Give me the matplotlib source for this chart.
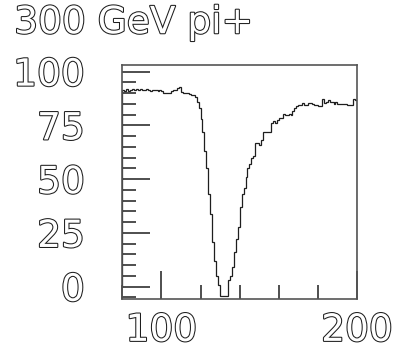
import numpy as np
import matplotlib
matplotlib.use("Agg")
import matplotlib.pyplot as plt
import matplotlib.patheffects as pe
from matplotlib.ticker import FixedLocator, MultipleLocator

# -----------------------------------------------------------------------------
# DATA  (1 unit bins, 80 -> 200)
# -----------------------------------------------------------------------------
bin_lo = 80
bin_hi = 200
counts = [
    # 80 - 99
    91.5, 91.0, 92.0, 91.0, 91.5, 92.0, 91.5, 92.0, 91.5, 92.0,
    91.5, 91.5, 92.0, 91.5, 91.0, 91.5, 91.5, 91.5, 91.0, 91.5,
    # 100 - 119
    91.0, 90.0, 90.0, 90.0, 90.0, 91.0, 91.5, 91.5, 92.5, 93.0,
    90.5, 90.0, 90.0, 90.0, 89.5, 89.0, 89.0, 88.0, 86.0, 83.0,
    # 120 - 139
    78.0, 72.0, 63.0, 55.0, 43.0, 34.0, 21.0, 12.0, 5.0, 1.0,
    -4.5, -4.5, -4.5, -4.5, 3.0, 5.0, 9.0, 16.0, 22.0, 28.0,
    # 140 - 159
    37.0, 43.0, 46.0, 51.0, 55.0, 57.0, 60.0, 61.0, 67.0, 67.0,
    66.0, 68.0, 72.0, 72.0, 72.0, 72.0, 76.0, 77.0, 76.0, 77.5,
    # 160 - 179
    78.5, 78.5, 80.5, 80.0, 80.0, 80.5, 80.0, 81.5, 83.0, 84.0,
    84.5, 84.5, 85.5, 84.5, 84.5, 85.5, 85.5, 85.0, 84.5, 84.5,
    # 180 - 199
    84.0, 84.0, 87.5, 85.5, 86.0, 87.0, 86.0, 86.0, 85.0, 86.0,
    85.0, 84.8, 84.8, 84.8, 84.8, 84.5, 84.5, 84.5, 87.5, 86.8,
]
edges = np.arange(bin_lo, bin_hi + 1)

title = "300 GeV pi+"
y_ticks = [0, 25, 50, 75, 100]
x_ticks = [100, 200]

_INK = "#1e1e1e"
_FILL = "#ffffff"
outline = [pe.Stroke(linewidth=1.5, foreground=_INK), pe.Normal()]

fig = plt.figure(figsize=(3.94, 3.49), dpi=100)
ax = fig.add_axes([0.3104, 0.1433, 0.5957, 0.6705])

ax.stairs(counts, edges, color=_INK, lw=0.9)

ax.set_xlim(bin_lo, bin_hi)
ax.set_ylim(-5.7, 103.1)

# -- ticks ----------------------------------------------------------------
ax.xaxis.set_major_locator(FixedLocator(x_ticks))
ax.xaxis.set_minor_locator(MultipleLocator(20))
ax.yaxis.set_major_locator(FixedLocator(y_ticks))
ax.yaxis.set_minor_locator(MultipleLocator(5))
ax.tick_params(which="both", direction="in", color=_INK, width=1.1,
               top=False, right=False)
ax.tick_params(which="major", length=20)
ax.tick_params(which="minor", length=10)
ax.tick_params(axis="y", which="major", pad=27)
ax.tick_params(axis="x", which="major", pad=10)

for lab in ax.get_xticklabels() + ax.get_yticklabels():
    lab.set_fontsize(27)
    lab.set_color(_FILL)
    lab.set_path_effects(outline)

for sp in ax.spines.values():
    sp.set_color("#555555")
    sp.set_linewidth(1.2)

t = fig.text(0.036, 0.985, title, fontsize=27, color=_FILL,
             ha="left", va="top")
t.set_path_effects(outline)

fig.savefig("out.png", dpi=100)
